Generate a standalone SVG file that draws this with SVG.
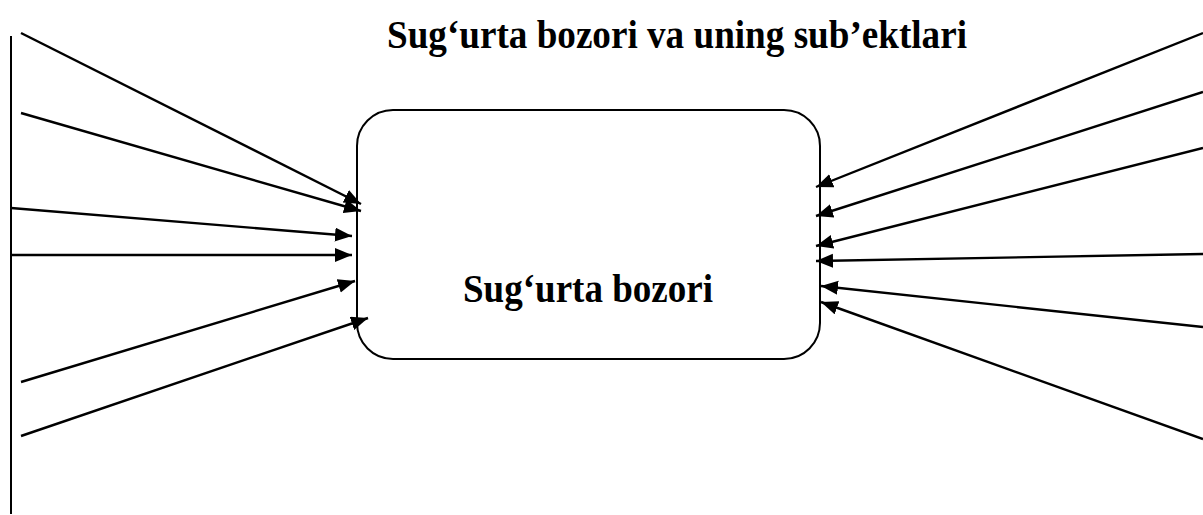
<svg xmlns="http://www.w3.org/2000/svg" width="1203" height="515" viewBox="0 0 1203 515">
  <style>
    .label { font-family: "Liberation Serif", "Times New Roman", serif; font-weight: bold; font-size: 40px; fill: #000; }
    .conn { stroke: #000; stroke-width: 2.4; fill: none; marker-end: url(#arrow); }
    .box { fill: #fff; stroke: #000; stroke-width: 2; }
  </style>
  <defs>
    <marker id="arrow" markerUnits="userSpaceOnUse" markerWidth="18" markerHeight="15" refX="17" refY="7" orient="auto">
      <path d="M0,0 L17,7 L0,14 z" fill="#000"/>
    </marker>
  </defs>

  <rect width="1203" height="515" fill="#fff"/>

  <g id="title">
    <text class="label" x="387" y="47.5" textLength="580" lengthAdjust="spacingAndGlyphs">Sug‘urta bozori va uning sub’ektlari</text>
  </g>

  <g id="market">
    <rect class="box" x="357" y="110" width="463" height="249" rx="36" ry="36"/>
    <text class="label" x="463" y="302" textLength="250" lengthAdjust="spacingAndGlyphs">Sug‘urta bozori</text>
  </g>

  <g id="left-bar">
    <line x1="11" y1="36" x2="11" y2="514" stroke="#000" stroke-width="2"/>
  </g>

  <g id="connectors">
    <!-- left side -->
    <line class="conn" x1="21" y1="33" x2="361" y2="204"/>
    <line class="conn" x1="21" y1="113" x2="361" y2="211"/>
    <line class="conn" x1="11" y1="208" x2="352" y2="236"/>
    <line class="conn" x1="11" y1="255" x2="352" y2="255"/>
    <line class="conn" x1="21" y1="382" x2="355" y2="281"/>
    <line class="conn" x1="21" y1="436" x2="368" y2="318"/>
    <!-- right side -->
    <line class="conn" x1="1203" y1="33" x2="816" y2="187"/>
    <line class="conn" x1="1203" y1="92" x2="816" y2="216"/>
    <line class="conn" x1="1203" y1="148" x2="816" y2="246"/>
    <line class="conn" x1="1203" y1="254" x2="816" y2="261"/>
    <line class="conn" x1="1203" y1="327" x2="821" y2="286"/>
    <line class="conn" x1="1203" y1="439" x2="821" y2="302"/>
  </g>
</svg>
